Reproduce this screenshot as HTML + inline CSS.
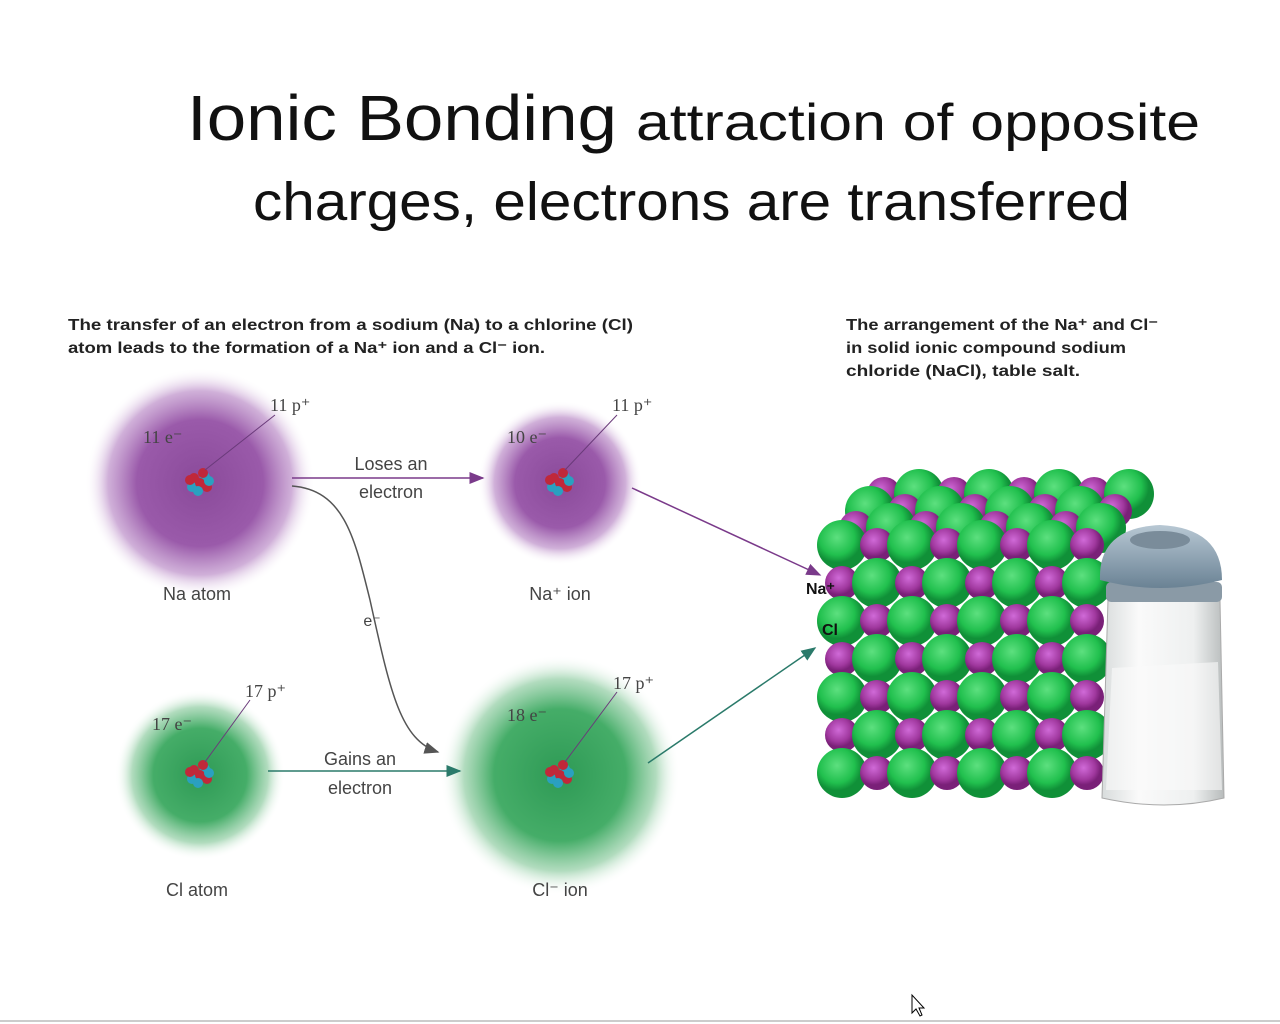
<!DOCTYPE html>
<html><head><meta charset="utf-8"><style>
body{margin:0;background:#fff;width:1280px;height:1024px;overflow:hidden;font-family:"Liberation Sans",sans-serif}
svg{display:block}
</style></head><body>
<svg width="1280" height="1024" viewBox="0 0 1280 1024">
<defs>
<radialGradient id="pur"><stop offset="0" stop-color="#8a4a9a"/><stop offset="0.55" stop-color="#9a5aaa"/><stop offset="0.8" stop-color="#c49ccf" stop-opacity="0.8"/><stop offset="1" stop-color="#fff" stop-opacity="0"/></radialGradient>
<radialGradient id="grn"><stop offset="0" stop-color="#2e9a55"/><stop offset="0.55" stop-color="#45ad68"/><stop offset="0.8" stop-color="#9ed3ae" stop-opacity="0.8"/><stop offset="1" stop-color="#fff" stop-opacity="0"/></radialGradient>
<radialGradient id="gs" cx="0.4" cy="0.35"><stop offset="0" stop-color="#5de07f"/><stop offset="0.7" stop-color="#21c04e"/><stop offset="1" stop-color="#109038"/></radialGradient>
<radialGradient id="ps" cx="0.4" cy="0.35"><stop offset="0" stop-color="#d06ad8"/><stop offset="0.7" stop-color="#a0389e"/><stop offset="1" stop-color="#7a2078"/></radialGradient>
<linearGradient id="jar" x1="0" x2="1"><stop offset="0" stop-color="#d8dcdc"/><stop offset="0.3" stop-color="#fafafa"/><stop offset="0.75" stop-color="#eef0f0"/><stop offset="1" stop-color="#b8bcbc"/></linearGradient>
<linearGradient id="cap" x1="0" y1="0" x2="0" y2="1"><stop offset="0" stop-color="#b8c8d4"/><stop offset="1" stop-color="#6a8294"/></linearGradient>
<marker id="ap" markerWidth="10" markerHeight="8" refX="9" refY="4" orient="auto"><path d="M0,0L10,4L0,8z" fill="#7a3a8a"/></marker>
<marker id="ag" markerWidth="10" markerHeight="8" refX="9" refY="4" orient="auto"><path d="M0,0L10,4L0,8z" fill="#2a7a6a"/></marker>
<marker id="ak" markerWidth="10" markerHeight="8" refX="9" refY="4" orient="auto"><path d="M0,0L10,4L0,8z" fill="#555"/></marker>
</defs>

<text x="187" y="140" fill="#111"><tspan font-size="64" textLength="430" lengthAdjust="spacingAndGlyphs">Ionic Bonding</tspan><tspan font-size="52" x="636" textLength="564" lengthAdjust="spacingAndGlyphs">attraction of opposite</tspan></text>
<text x="253" y="220" font-size="54" fill="#111" textLength="877" lengthAdjust="spacingAndGlyphs">charges, electrons are transferred</text>

<g font-size="16" font-weight="bold" fill="#222">
<text x="68" y="330" textLength="565" lengthAdjust="spacingAndGlyphs">The transfer of an electron from a sodium (Na) to a chlorine (Cl)</text>
<text x="68" y="353" textLength="477" lengthAdjust="spacingAndGlyphs">atom leads to the formation of a Na⁺ ion and a Cl⁻ ion.</text>
</g>
<g font-size="16" font-weight="bold" fill="#222">
<text x="846" y="330" textLength="312" lengthAdjust="spacingAndGlyphs">The arrangement of the Na⁺ and Cl⁻</text>
<text x="846" y="353" textLength="280" lengthAdjust="spacingAndGlyphs">in solid ionic compound sodium</text>
<text x="846" y="376" textLength="234" lengthAdjust="spacingAndGlyphs">chloride (NaCl), table salt.</text>
</g>

<circle cx="200" cy="483" r="115" fill="url(#pur)"/>
<circle cx="560" cy="483" r="82" fill="url(#pur)"/>
<circle cx="200" cy="775" r="85" fill="url(#grn)"/>
<circle cx="560" cy="775" r="120" fill="url(#grn)"/>

<g id="nuclei"></g>

<g stroke="#6a3a7a" stroke-width="1">
<line x1="205" y1="470" x2="275" y2="415"/><line x1="565" y1="470" x2="617" y2="415"/>
<line x1="205" y1="762" x2="250" y2="700"/><line x1="565" y1="762" x2="617" y2="692"/>
</g>
<g font-size="18" fill="#444" font-family="Liberation Serif,serif">
<text x="270" y="411">11 p⁺</text><text x="143" y="443">11 e⁻</text>
<text x="612" y="411">11 p⁺</text><text x="507" y="443">10 e⁻</text>
<text x="245" y="697">17 p⁺</text><text x="152" y="730">17 e⁻</text>
<text x="613" y="689">17 p⁺</text><text x="507" y="721">18 e⁻</text>
</g>
<g font-size="18" fill="#444" text-anchor="middle">
<text x="197" y="600">Na atom</text><text x="560" y="600">Na⁺ ion</text>
<text x="197" y="896">Cl atom</text><text x="560" y="896">Cl⁻ ion</text>
<text x="391" y="470">Loses an</text><text x="391" y="498">electron</text>
<text x="360" y="765">Gains an</text><text x="360" y="794">electron</text>
<text x="372" y="626" font-size="16">e⁻</text>
</g>
<g fill="none" stroke-width="1.5">
<line x1="292" y1="478" x2="483" y2="478" stroke="#7a3a8a" marker-end="url(#ap)"/>
<line x1="268" y1="771" x2="460" y2="771" stroke="#2a7a6a" marker-end="url(#ag)"/>
<path d="M292,486 C345,490 355,540 370,600 C390,690 400,740 438,752" stroke="#555" marker-end="url(#ak)"/>
<line x1="632" y1="488" x2="820" y2="575" stroke="#7a3a8a" marker-end="url(#ap)"/>
<line x1="648" y1="763" x2="815" y2="648" stroke="#2a7a6a" marker-end="url(#ag)"/>
</g>

<g id="crystal"></g>
<text x="806" y="594" font-size="16" font-weight="bold" fill="#111">Na⁺</text>
<text x="822" y="635" font-size="16" font-weight="bold" fill="#111">Cl</text>

<g>
<path d="M1108,600 L1220,600 L1224,798 Q1165,812 1102,798 Z" fill="url(#jar)" stroke="#aaa"/>
<path d="M1112,668 L1218,662 L1222,790 L1106,790Z" fill="#fafafa" opacity="0.6"/>
<rect x="1106" y="582" width="116" height="20" rx="5" fill="#8a9aa6"/>
<path d="M1100,580 Q1098,528 1160,525 Q1222,528 1222,580 Q1160,596 1100,580Z" fill="url(#cap)"/>
<ellipse cx="1160" cy="540" rx="30" ry="9" fill="#7a8c9a"/>
</g>

<line x1="0" y1="1021" x2="1280" y2="1021" stroke="#ccc" stroke-width="2"/>
<path d="M912,995 L912,1013 L916,1009 L920,1016 L922,1015 L919,1008 L924,1008Z" fill="#fff" stroke="#000"/>
</svg>
<script>
const ns="http://www.w3.org/2000/svg";
const nucleusCenters=[[200,483],[560,483],[200,775],[560,775]];
const nuc=document.getElementById('nuclei');
nucleusCenters.forEach(([x,y])=>{
  [[-6,-5,'#c0283a'],[5,-6,'#2aa0c0'],[-8,4,'#2aa0c0'],[0,0,'#c0283a'],[7,4,'#c0283a'],[-2,8,'#2aa0c0'],[3,-10,'#c0283a'],[-10,-3,'#c0283a'],[9,-2,'#2aa0c0']].forEach(([dx,dy,c])=>{
    const e=document.createElementNS(ns,'circle');
    
    
    e.setAttribute('cx',x+dx);e.setAttribute('cy',y+dy);e.setAttribute('r',5);e.setAttribute('fill',c);nuc.appendChild(e);
  });
});
const cr=document.getElementById('crystal');
function sph(x,y,g){
  const e=document.createElementNS(ns,'circle');
  
  
  e.setAttribute('cx',x);e.setAttribute('cy',y);e.setAttribute('r',g?25:17);e.setAttribute('fill',g?'url(#gs)':'url(#ps)');cr.appendChild(e);
}
// back layers first (top face), then front face
for(let layer=3;layer>=0;layer--){
  const ox=842+layer*14, oy=545-layer*17;
  const rows=layer===0?7:1;
  for(let r=0;r<rows;r++){
    for(let c=0;c<8;c++){
      const g=(r+c+layer)%2===0;
      sph(ox+c*35,oy+r*38,g);
    }
  }
}
</script>
</body></html>
